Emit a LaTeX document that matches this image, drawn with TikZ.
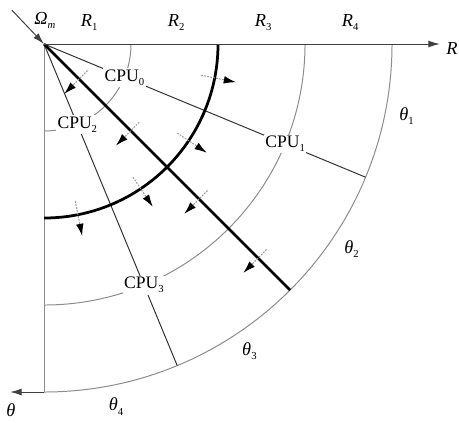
\documentclass[tikz,border=0pt]{standalone}
\usepackage{fontspec}
\setmainfont{Liberation Serif}
\usetikzlibrary{arrows.meta,calc}
\newcommand{\sbs}[1]{\raisebox{-0.5ex}{\scriptsize #1}}
\tikzset{
axisline/.style={draw=black!75,line width=0.65pt},
ringline/.style={draw=black!45,line width=0.65pt},
cutline/.style={draw=black!80,line width=0.65pt},
bound/.style={draw=black,line width=1.8pt},
axtip/.style={-{Latex[length=7.5pt,width=4.5pt]}},
cpulabel/.style={fill=white,inner sep=1pt,font=\fontsize{11.5}{13}\selectfont},
axlabel/.style={inner sep=0pt,font=\fontsize{12}{14}\selectfont},
moveto/.style={draw=black!40,dash pattern=on 1.2pt off 0.8pt,line width=0.65pt,-{Latex[black,length=8pt,width=5pt]}}
}

\begin{document}
\begin{tikzpicture}[x=2cm,y=2cm]
\useasboundingbox (-0.506,-4.356) rectangle (4.770,0.506);
\coordinate (O) at (0,0);
\coordinate (Rend) at (4.55,0);
\coordinate (Tfoot) at (0,-4);
\coordinate (Tend) at (-0.39,-4);
\coordinate (Wstart) at (-0.37,0.39);
% rings and cuts
\foreach \r in {1,3,4} \draw[ringline] (\r,0) arc (0:-90:\r);
\draw[ringline] (O) -- (Tfoot);
\foreach \a in {22.5,67.5} \draw[cutline] (O) -- (-\a:4);
% moving boundary
\draw[bound] (2,0) arc (0:-90:2);
\draw[bound] (O) -- (-45:4);
% axes
\draw[axisline,axtip] (O) -- (Rend);
\draw[axisline,axtip] (Tfoot) -- (Tend);
\draw[axisline,axtip] (Wstart) -- (O);
% labels
\node[axlabel] (om) at (0.01,0.27) {\textit{Ω}\sbs{\textit{m}}};
\foreach \i in {1,...,4} \node[axlabel] (r\i) at (\i-0.48,0.25) {\textit{R}\sbs{\i}};
\node[axlabel] (rr) at (4.69,-0.05) {\textit{R}};
\foreach \a/\i in {11.25/1,33.75/2,56.25/3,78.75/4} \node[axlabel] (t\i) at (-\a:4.25) {\textit{θ}\sbs{\i}};
\node[axlabel] (tt) at (-0.38,-4.21) {\textit{θ}};
\node[cpulabel] (cpu0) at (-22.5:1) {CPU\sbs{0}};
\node[cpulabel] (cpu1) at (-22.5:3) {CPU\sbs{1}};
\node[cpulabel] (cpu2) at (-67.5:1) {CPU\sbs{2}};
\node[cpulabel] (cpu3) at (-67.5:3) {CPU\sbs{3}};
% motion of the boundary
\foreach \a in {11.25,33.75,56.25,78.75} \draw[moveto] (-\a:1.84) -- (-\a:2.25);
\foreach \r in {0.57,1.41,2.52,3.48} \draw[moveto] ($(-45:\r)+(45:0.14)$) -- ($(-45:\r)+(225:0.24)$);
\end{tikzpicture}
\end{document}
